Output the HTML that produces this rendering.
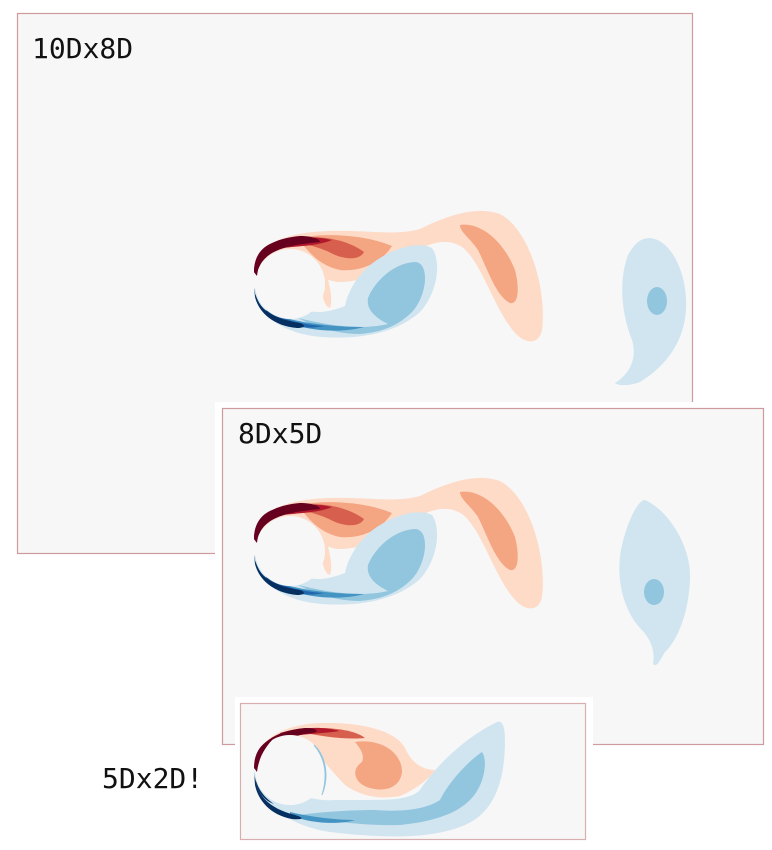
<!DOCTYPE html>
<html><head><meta charset="utf-8"><style>
html,body{margin:0;padding:0;background:#fff;width:772px;height:850px;overflow:hidden}
svg{display:block}
text{font-family:"DejaVu Sans Mono","Liberation Mono",monospace;font-size:28px;fill:#111}
</style></head><body>
<svg width="772" height="850" viewBox="0 0 772 850">
<defs>
<g id="wake">
  <path fill="#fddbc7" d="M255,272 C253,245 285,232 330,231 C370,230 395,236 420,229 C450,214 478,206 500,214 C530,230 547,290 542,330 C539,345 526,344 516,334 C494,310 482,262 462,247 C445,236 425,244 405,258 C385,272 362,282 338,282 C318,280 305,262 295,250 C280,248 262,258 255,272Z"/>
  <path fill="#f4a582" d="M460,225 C480,222 503,240 515,270 C520,290 518,305 510,303 C496,296 488,270 478,250 C470,238 460,232 460,225Z"/>
  <path fill="#f4a582" d="M298,238 C330,232 368,236 392,246 C382,262 362,272 340,270 C320,266 308,252 298,238Z"/>
  <path fill="#d6604d" d="M288,240 C315,234 345,238 364,252 C360,260 346,260 333,254 C318,246 303,244 288,240Z"/>
  <path fill="#b2182b" d="M266,250 C285,237 312,235 332,240 C318,246 298,246 283,248Z"/>
  <path fill="#67001f" d="M254,272 C254,252 268,239 300,236 C312,236 320,239 320,242 C300,244 285,246 272,253 C262,259 258,267 257,276Z"/>
  <path fill="#fddbc7" d="M320,276 C322,290 322,305 330,308 C333,300 330,285 326,273Z"/>
  <path fill="#d1e5f0" d="M312,258 C318,262 322,270 324,278 C320,275 316,266 312,258Z"/>
  <path fill="#d1e5f0" d="M254,288 C256,314 282,334 322,337 C362,340 398,332 420,312 C437,294 442,262 432,248 C420,242 400,246 380,258 C360,270 348,290 345,306 C335,310 325,312 320,312 C300,312 275,305 254,288Z"/>
  <path fill="#92c5de" d="M298,318 C330,326 362,330 388,324 C376,318 366,310 368,298 C375,280 396,262 416,262 C430,264 427,296 412,312 C400,324 385,332 360,334 C335,334 314,326 298,318Z"/>
  <path fill="#4393c3" d="M282,317 C310,325 342,327 364,327 C342,333 310,332 284,321Z"/>
  <path fill="#2166ac" d="M266,310 C285,321 306,325 324,326 C306,330 284,326 268,317Z"/>
  <path fill="#053061" d="M254,288 C256,306 268,318 300,323 C306,325 305,328 297,328 C274,326 259,313 255,297Z"/>
  <circle cx="290" cy="284" r="35" fill="#f7f7f7"/>
  <path fill="#67001f" d="M254,272 C254,256 262,246 275,242 C266,250 259,260 257,276Z"/>
  <path fill="#053061" d="M254,288 C256,300 262,310 274,318 C262,314 256,302 255,292Z"/>
</g>
</defs>

<g>
  <rect x="17.5" y="13.5" width="675" height="540" fill="#f7f7f7" stroke="#cf9a9e" stroke-width="1.2"/>
  <text x="32" y="58">10Dx8D</text>
  <use href="#wake"/>
  <path fill="#d1e5f0" d="M650,238 C672,240 688,275 686,310 C684,340 668,365 640,382 C630,386 618,386 615,383 C628,375 638,360 632,340 C622,315 618,282 628,255 C635,242 642,238 650,238Z"/>
  <ellipse cx="657" cy="301" rx="10" ry="14" fill="#92c5de"/>
</g>

<g>
  <rect x="215" y="402" width="556" height="350" fill="#fff"/>
  <rect x="222.5" y="408.5" width="541" height="336" fill="#f7f7f7" stroke="#cf9a9e" stroke-width="1.2"/>
  <text x="238" y="443">8Dx5D</text>
  <use href="#wake" transform="translate(0,267)"/>
  <path fill="#d1e5f0" d="M645,500 C668,510 690,545 690,575 C690,610 678,640 665,652 C660,660 657,668 653,664 C655,652 652,640 640,628 C622,608 615,575 622,545 C628,520 638,500 645,500Z"/>
  <ellipse cx="654" cy="592" rx="10" ry="13" fill="#92c5de"/>
</g>

<g>
  <rect x="235" y="697" width="358" height="153" fill="#fff"/>
  <rect x="240.5" y="703.5" width="345" height="136" fill="#f7f7f7" stroke="#d8aeb0" stroke-width="1.2"/>
  <path fill="#fddbc7" d="M255,770 C254,745 275,725 320,723 C360,722 395,730 405,748 C410,760 420,770 435,770 C430,778 415,790 400,796 C380,800 360,796 345,785 C335,775 325,762 315,752 C300,745 280,748 262,758Z"/>
  <path fill="#f4a582" d="M355,742 C380,738 402,752 402,772 C400,788 385,792 370,788 C355,784 350,770 362,762 C365,755 360,748 355,742Z"/>
  <path fill="#d6604d" d="M300,729 C330,726 355,730 365,738 C345,740 320,736 300,732Z"/>
  <path fill="#b2182b" d="M280,733 C305,726 325,727 340,731 C320,734 300,734 285,737Z"/>
  <path fill="#67001f" d="M255,768 C254,748 270,731 305,728 C318,728 320,732 312,733 C290,735 275,745 262,760 C259,765 258,770 258,775Z"/>
  <path fill="#d1e5f0" d="M254,772 C256,800 285,825 330,832 C380,838 430,840 465,825 C495,812 505,780 505,740 C505,726 502,720 497,722 C470,735 440,760 420,790 C410,800 390,800 360,800 C345,800 340,800 335,800 C310,802 280,790 254,772Z"/>
  <path fill="#92c5de" d="M300,815 C330,822 370,826 400,825 C430,822 455,815 470,800 C485,785 488,760 482,752 C470,760 450,780 440,800 C425,810 400,812 375,810 C350,810 320,812 300,815Z"/>
  <path fill="#4393c3" d="M290,812 C315,818 340,820 355,820 C335,826 305,822 290,815Z"/>
  <path fill="#053061" d="M254,772 C256,795 268,808 295,815 C305,818 303,820 292,819 C270,815 258,800 255,785Z"/>
  <circle cx="290" cy="770" r="35" fill="#f7f7f7"/>
  <path fill="#67001f" d="M254,768 C254,752 262,742 275,737 C266,746 259,756 257,772Z"/>
  <path fill="#053061" d="M254,772 C256,786 262,796 274,804 C262,800 256,788 255,778Z"/>
  <path fill="#d1e5f0" d="M314,745 C325,755 330,775 322,795 C328,775 325,758 314,745Z" stroke="#92c5de" stroke-width="1"/>
</g>
<text x="102" y="788">5Dx2D!</text>
</svg>
</body></html>
